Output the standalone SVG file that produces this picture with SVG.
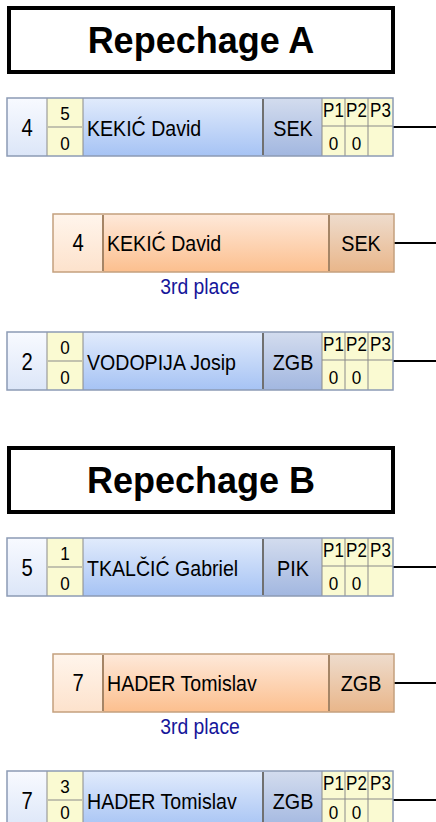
<svg xmlns="http://www.w3.org/2000/svg" width="436" height="822" viewBox="0 0 436 822">
<style>
text{font-family:"Liberation Sans",Arial,sans-serif;fill:#000}
.title{font-size:36px;font-weight:bold;text-anchor:middle}
.tbox{fill:#fff;stroke:#000;stroke-width:4}
.big{font-size:23px;text-anchor:middle}
.name{font-size:22px}
.club{font-size:22px;text-anchor:middle}
.sm{font-size:19px;text-anchor:middle}
.ph{font-size:20px;text-anchor:middle}
.place{font-size:22px;text-anchor:middle;fill:#16169a}
.yel{fill:#fafad2}
.bborder{fill:none;stroke:#8c9bb5;stroke-width:1.5}
.oborder{fill:none;stroke:#c4a07e;stroke-width:1.5}
.gl{stroke:#8a8a8a;stroke-width:1}
.bdiv{stroke:#707070;stroke-width:2}
.odiv{stroke:#a58566;stroke-width:2}
.conn{stroke:#000;stroke-width:2}
</style>
<defs>
<linearGradient id="gSeedB" x1="0" y1="0" x2="0" y2="1"><stop offset="0" stop-color="#f8faff"/><stop offset="1" stop-color="#dce6f8"/></linearGradient>
<linearGradient id="gNameB" x1="0" y1="0" x2="0" y2="1"><stop offset="0" stop-color="#e1ebfc"/><stop offset="1" stop-color="#a6c3f4"/></linearGradient>
<linearGradient id="gClubB" x1="0" y1="0" x2="0" y2="1"><stop offset="0" stop-color="#d3dcee"/><stop offset="1" stop-color="#a2b7e0"/></linearGradient>
<linearGradient id="gSeedO" x1="0" y1="0" x2="0" y2="1"><stop offset="0" stop-color="#fff5ec"/><stop offset="1" stop-color="#fde2cc"/></linearGradient>
<linearGradient id="gNameO" x1="0" y1="0" x2="0" y2="1"><stop offset="0" stop-color="#fee9da"/><stop offset="1" stop-color="#fcbf8e"/></linearGradient>
<linearGradient id="gClubO" x1="0" y1="0" x2="0" y2="1"><stop offset="0" stop-color="#eedccd"/><stop offset="1" stop-color="#e9b68a"/></linearGradient>
</defs>

<g id="connectors">
<line class="conn" x1="393" y1="127" x2="436" y2="127"/>
<line class="conn" x1="394" y1="243" x2="436" y2="243"/>
<line class="conn" x1="393" y1="361" x2="436" y2="361"/>
<line class="conn" x1="393" y1="567" x2="436" y2="567"/>
<line class="conn" x1="394" y1="683" x2="436" y2="683"/>
<line class="conn" x1="393" y1="800" x2="436" y2="800"/>
</g>

<g id="titleA">
<rect class="tbox" x="9" y="8" width="384" height="64"/>
<text class="title" x="201" y="53">Repechage A</text>
</g>

<g id="a1">
<rect x="7" y="98" width="40" height="58" fill="url(#gSeedB)"/>
<rect class="yel" x="47" y="98" width="36" height="58"/>
<rect x="83" y="98" width="180" height="58" fill="url(#gNameB)"/>
<rect x="263" y="98" width="59" height="58" fill="url(#gClubB)"/>
<rect class="yel" x="322" y="98" width="71" height="58"/>
<line class="gl" x1="47" y1="98" x2="47" y2="156"/>
<line class="gl" x1="48" y1="127" x2="82" y2="127"/>
<line class="gl" x1="83" y1="98" x2="83" y2="156"/>
<line class="bdiv" x1="263" y1="99" x2="263" y2="155"/>
<line class="gl" x1="322" y1="98" x2="322" y2="156"/>
<line class="gl" x1="345" y1="98" x2="345" y2="156"/>
<line class="gl" x1="368" y1="98" x2="368" y2="156"/>
<line class="gl" x1="322" y1="126" x2="393" y2="126"/>
<rect class="bborder" x="7" y="98" width="386" height="58"/>
<text class="big" transform="translate(27,136) scale(0.88,1)">4</text>
<text class="sm" transform="translate(65,120) scale(0.9,1)">5</text>
<text class="sm" transform="translate(65,150) scale(0.9,1)">0</text>
<text class="name" transform="translate(87,136) scale(0.89,1)">KEKIĆ David</text>
<text class="club" transform="translate(293,136) scale(0.9,1)">SEK</text>
<text class="ph" transform="translate(333.5,117) scale(0.85,1)">P1</text>
<text class="ph" transform="translate(356.5,117) scale(0.85,1)">P2</text>
<text class="ph" transform="translate(380.5,117) scale(0.85,1)">P3</text>
<text class="sm" transform="translate(333.5,150) scale(0.9,1)">0</text>
<text class="sm" transform="translate(356.5,150) scale(0.9,1)">0</text>
</g>

<g id="a2">
<rect x="53" y="214" width="50" height="58" fill="url(#gSeedO)"/>
<rect x="103" y="214" width="226" height="58" fill="url(#gNameO)"/>
<rect x="329" y="214" width="65" height="58" fill="url(#gClubO)"/>
<line class="odiv" x1="103" y1="215" x2="103" y2="271"/>
<line class="odiv" x1="329" y1="215" x2="329" y2="271"/>
<rect class="oborder" x="53" y="214" width="341" height="58"/>
<text class="big" transform="translate(78,251) scale(0.88,1)">4</text>
<text class="name" transform="translate(107,251) scale(0.89,1)">KEKIĆ David</text>
<text class="club" transform="translate(361,251) scale(0.9,1)">SEK</text>
<text class="place" transform="translate(200,294) scale(0.88,1)">3rd place</text>
</g>

<g id="a3">
<rect x="7" y="332" width="40" height="58" fill="url(#gSeedB)"/>
<rect class="yel" x="47" y="332" width="36" height="58"/>
<rect x="83" y="332" width="180" height="58" fill="url(#gNameB)"/>
<rect x="263" y="332" width="59" height="58" fill="url(#gClubB)"/>
<rect class="yel" x="322" y="332" width="71" height="58"/>
<line class="gl" x1="47" y1="332" x2="47" y2="390"/>
<line class="gl" x1="48" y1="361" x2="82" y2="361"/>
<line class="gl" x1="83" y1="332" x2="83" y2="390"/>
<line class="bdiv" x1="263" y1="333" x2="263" y2="389"/>
<line class="gl" x1="322" y1="332" x2="322" y2="390"/>
<line class="gl" x1="345" y1="332" x2="345" y2="390"/>
<line class="gl" x1="368" y1="332" x2="368" y2="390"/>
<line class="gl" x1="322" y1="360" x2="393" y2="360"/>
<rect class="bborder" x="7" y="332" width="386" height="58"/>
<text class="big" transform="translate(27,370) scale(0.88,1)">2</text>
<text class="sm" transform="translate(65,354) scale(0.9,1)">0</text>
<text class="sm" transform="translate(65,384) scale(0.9,1)">0</text>
<text class="name" transform="translate(87,370) scale(0.89,1)">VODOPIJA Josip</text>
<text class="club" transform="translate(293,370) scale(0.9,1)">ZGB</text>
<text class="ph" transform="translate(333.5,351) scale(0.85,1)">P1</text>
<text class="ph" transform="translate(356.5,351) scale(0.85,1)">P2</text>
<text class="ph" transform="translate(380.5,351) scale(0.85,1)">P3</text>
<text class="sm" transform="translate(333.5,384) scale(0.9,1)">0</text>
<text class="sm" transform="translate(356.5,384) scale(0.9,1)">0</text>
</g>

<g id="titleB">
<rect class="tbox" x="9" y="448" width="384" height="64"/>
<text class="title" x="201" y="493">Repechage B</text>
</g>

<g id="b1">
<rect x="7" y="538" width="40" height="58" fill="url(#gSeedB)"/>
<rect class="yel" x="47" y="538" width="36" height="58"/>
<rect x="83" y="538" width="180" height="58" fill="url(#gNameB)"/>
<rect x="263" y="538" width="59" height="58" fill="url(#gClubB)"/>
<rect class="yel" x="322" y="538" width="71" height="58"/>
<line class="gl" x1="47" y1="538" x2="47" y2="596"/>
<line class="gl" x1="48" y1="567" x2="82" y2="567"/>
<line class="gl" x1="83" y1="538" x2="83" y2="596"/>
<line class="bdiv" x1="263" y1="539" x2="263" y2="595"/>
<line class="gl" x1="322" y1="538" x2="322" y2="596"/>
<line class="gl" x1="345" y1="538" x2="345" y2="596"/>
<line class="gl" x1="368" y1="538" x2="368" y2="596"/>
<line class="gl" x1="322" y1="566" x2="393" y2="566"/>
<rect class="bborder" x="7" y="538" width="386" height="58"/>
<text class="big" transform="translate(27,576) scale(0.88,1)">5</text>
<text class="sm" transform="translate(65,560) scale(0.9,1)">1</text>
<text class="sm" transform="translate(65,590) scale(0.9,1)">0</text>
<text class="name" transform="translate(87,576) scale(0.89,1)">TKALČIĆ Gabriel</text>
<text class="club" transform="translate(293,576) scale(0.9,1)">PIK</text>
<text class="ph" transform="translate(333.5,557) scale(0.85,1)">P1</text>
<text class="ph" transform="translate(356.5,557) scale(0.85,1)">P2</text>
<text class="ph" transform="translate(380.5,557) scale(0.85,1)">P3</text>
<text class="sm" transform="translate(333.5,590) scale(0.9,1)">0</text>
<text class="sm" transform="translate(356.5,590) scale(0.9,1)">0</text>
</g>

<g id="b2">
<rect x="53" y="654" width="50" height="58" fill="url(#gSeedO)"/>
<rect x="103" y="654" width="226" height="58" fill="url(#gNameO)"/>
<rect x="329" y="654" width="65" height="58" fill="url(#gClubO)"/>
<line class="odiv" x1="103" y1="655" x2="103" y2="711"/>
<line class="odiv" x1="329" y1="655" x2="329" y2="711"/>
<rect class="oborder" x="53" y="654" width="341" height="58"/>
<text class="big" transform="translate(78,691) scale(0.88,1)">7</text>
<text class="name" transform="translate(107,691) scale(0.89,1)">HADER Tomislav</text>
<text class="club" transform="translate(361,691) scale(0.9,1)">ZGB</text>
<text class="place" transform="translate(200,734) scale(0.88,1)">3rd place</text>
</g>

<g id="b3">
<rect x="7" y="771" width="40" height="58" fill="url(#gSeedB)"/>
<rect class="yel" x="47" y="771" width="36" height="58"/>
<rect x="83" y="771" width="180" height="58" fill="url(#gNameB)"/>
<rect x="263" y="771" width="59" height="58" fill="url(#gClubB)"/>
<rect class="yel" x="322" y="771" width="71" height="58"/>
<line class="gl" x1="47" y1="771" x2="47" y2="829"/>
<line class="gl" x1="48" y1="800" x2="82" y2="800"/>
<line class="gl" x1="83" y1="771" x2="83" y2="829"/>
<line class="bdiv" x1="263" y1="772" x2="263" y2="828"/>
<line class="gl" x1="322" y1="771" x2="322" y2="829"/>
<line class="gl" x1="345" y1="771" x2="345" y2="829"/>
<line class="gl" x1="368" y1="771" x2="368" y2="829"/>
<line class="gl" x1="322" y1="799" x2="393" y2="799"/>
<rect class="bborder" x="7" y="771" width="386" height="58"/>
<text class="big" transform="translate(27,809) scale(0.88,1)">7</text>
<text class="sm" transform="translate(65,793) scale(0.9,1)">3</text>
<text class="sm" transform="translate(65,819) scale(0.9,1)">0</text>
<text class="name" transform="translate(87,809) scale(0.89,1)">HADER Tomislav</text>
<text class="club" transform="translate(293,809) scale(0.9,1)">ZGB</text>
<text class="ph" transform="translate(333.5,790) scale(0.85,1)">P1</text>
<text class="ph" transform="translate(356.5,790) scale(0.85,1)">P2</text>
<text class="ph" transform="translate(380.5,790) scale(0.85,1)">P3</text>
<text class="sm" transform="translate(333.5,819) scale(0.9,1)">0</text>
<text class="sm" transform="translate(356.5,819) scale(0.9,1)">0</text>
</g>
</svg>
